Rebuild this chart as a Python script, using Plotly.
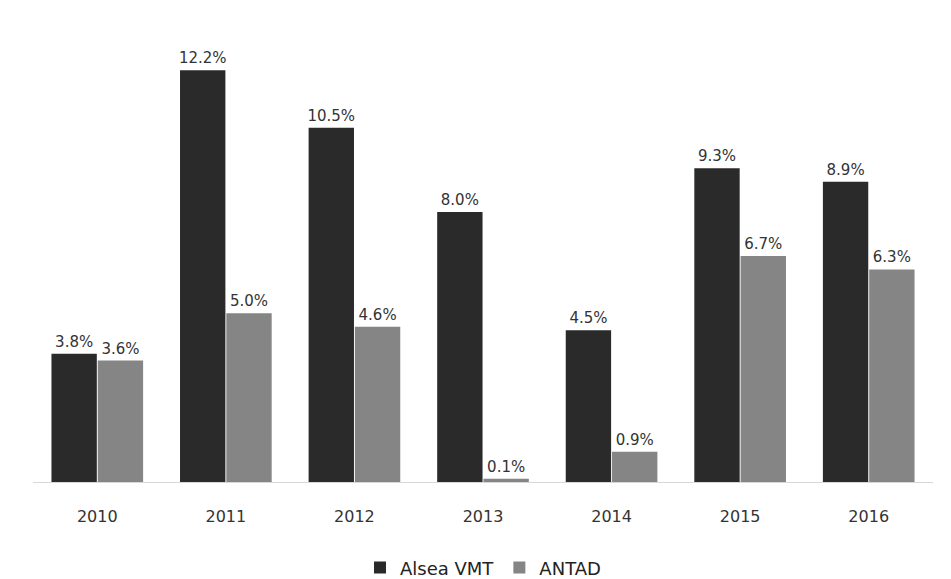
import plotly.graph_objects as go

years = ["2010", "2011", "2012", "2013", "2014", "2015", "2016"]
alsea = [3.8, 12.2, 10.5, 8.0, 4.5, 9.3, 8.9]
antad = [3.6, 5.0, 4.6, 0.1, 0.9, 6.7, 6.3]

font_family = "DejaVu Sans, sans-serif"

fig = go.Figure()
fig.add_trace(go.Bar(
    name="Alsea VMT", x=years, y=alsea,
    marker=dict(color="#2a2a2a", line=dict(width=0)),
    text=[f"{v:.1f}%" for v in alsea], textposition="outside",
    textfont=dict(size=15, color="#333333"), cliponaxis=False,
))
fig.add_trace(go.Bar(
    name="ANTAD", x=years, y=antad,
    marker=dict(color="#858585", line=dict(width=0)),
    text=[f"{v:.1f}%" for v in antad], textposition="outside",
    textfont=dict(size=15, color="#333333"), cliponaxis=False,
))

fig.update_layout(
    width=951, height=579,
    margin=dict(l=25, r=26, t=32, b=105, autoexpand=False),
    paper_bgcolor="white", plot_bgcolor="white",
    barmode="group", bargap=0.28, bargroupgap=0.02,
    font=dict(family=font_family, size=15, color="#333333"),
    uniformtext=dict(minsize=15, mode="show"),
    showlegend=True,
    legend=dict(orientation="h", x=0.5, xanchor="center", yref="container",
                y=0.033, yanchor="middle",
                font=dict(size=18, color="#222222"), traceorder="normal"),
)
fig.update_xaxes(showgrid=False, showline=True, linecolor="#d8d8d8", linewidth=1,
                 ticks="", ticklabelstandoff=20, tickfont=dict(size=16, color="#333333"))
fig.update_yaxes(range=[0, 13.1], showgrid=False, showticklabels=False, zeroline=False,
                 showline=False)

fig.write_html("out.html")
